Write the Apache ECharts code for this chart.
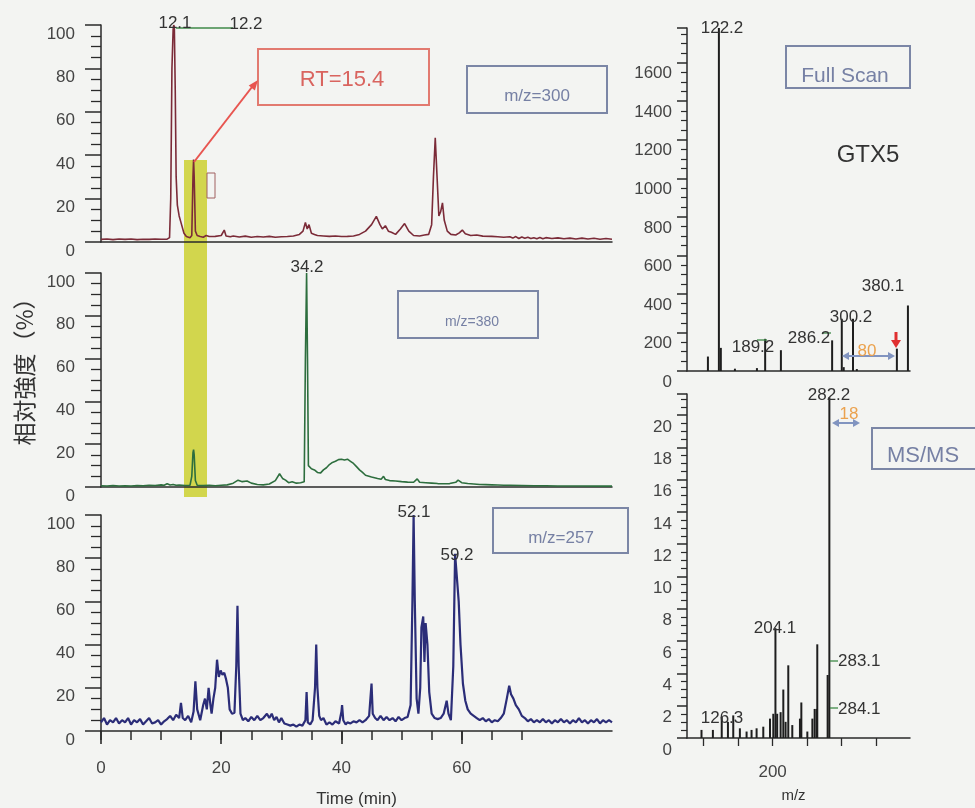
<!DOCTYPE html>
<html><head><meta charset="utf-8">
<script src="https://cdn.jsdelivr.net/npm/echarts@6/dist/echarts.min.js"></script>
<style>html,body{margin:0;padding:0;background:#f3f4f2}#c{width:975px;height:808px}</style>
</head><body><div id="c"></div>
<script>
// ---- Data ----
// Chromatogram m/z=300 : [time(min), relative intensity %]
const tic300 = [
[0,1.2],[1,1.4],[2,1.1],[3,1.4],[4,1.2],[5,1.4],[6,1.1],[7,1.3],[8,1.2],[9,1.4],[10,1.3],[11,1.3],[11.4,2],[11.6,20],[11.8,80],[12.0,98],[12.1,100],[12.2,99],[12.35,70],[12.5,30],[12.7,17],[13.0,12],[13.4,8],[13.8,4],[14.2,2.5],[14.8,2],[15.1,3],[15.3,30],[15.4,38],[15.5,30],[15.7,5],[16,3],[16.5,2.5],[17,2.2],[17.5,3],[18,2.5],[19,2.6],[20,3],[20.5,5.5],[20.8,2.8],[21.5,2.4],[22,2.8],[23,2.3],[24,2.7],[25,2.2],[26,2.5],[27,2.3],[28,2.6],[29,2.2],[30,2.4],[31,2.5],[32,2.8],[33,3.5],[33.6,5],[34,9],[34.3,6],[34.6,8],[35,4],[35.5,3.5],[36,3],[37,2.8],[38,2.6],[39,2.8],[40,2.5],[41,2.6],[42,2.8],[43,3.5],[44,5],[45,8],[45.8,11.8],[46.4,8],[46.8,6],[47.3,7.5],[47.8,5],[48.3,4.5],[49,3.5],[49.8,6],[50.5,8.5],[51.2,5],[52,3],[53,2.8],[53.8,3.2],[54.5,3.5],[55,8],[55.3,30],[55.6,48],[55.9,30],[56.2,12],[56.5,14],[56.8,18],[57.1,10],[57.6,5],[58.2,3.5],[59,3.2],[59.6,4.2],[60.1,5.5],[60.6,3.8],[61.5,3],[62.5,3.2],[63.5,2.7],[65,2.6],[66,2.4],[67,2.2],[68,2.4],[68.5,1.8],[69,2.5],[69.5,1.6],[70,2.3],[70.5,1.7],[71,2.2],[71.5,1.6],[72,2],[72.5,1.5],[73,2.1],[73.5,1.5],[74,2],[75,1.6],[76,1.9],[77,1.5],[78,1.8],[79,1.4],[80,1.8],[81,1.4],[82,1.7],[83,1.3],[84,1.6],[85,1.3]
];
// Chromatogram m/z=380
const tic380 = [
[0,0.6],[1,0.5],[2,0.7],[3,0.5],[4,0.6],[5,0.5],[6,0.7],[7,0.6],[8,0.8],[9,0.7],[10,1],[10.5,0.8],[11,1.5],[11.5,0.9],[12,1.2],[12.5,0.8],[13,0.9],[14,0.7],[14.8,0.8],[15.1,5],[15.3,16],[15.4,17.5],[15.5,15],[15.7,3],[16,0.8],[17,0.7],[18,0.8],[19,0.6],[20,0.8],[21,1],[22,1.8],[22.8,3.2],[23.5,2.5],[24.3,2.8],[25,1.8],[26,1.2],[27,1],[28,1.4],[29,3],[29.7,6.2],[30.2,4],[30.7,3.2],[31.2,2],[31.8,2.5],[32.5,1.8],[33.2,2],[33.8,2.5],[34.0,60],[34.2,100],[34.35,60],[34.5,10],[35,8.5],[35.5,8],[36,6.8],[36.5,6.5],[37,8],[37.5,9],[38,10.5],[38.5,11.5],[39,12],[39.3,11.2],[39.5,12.8],[39.8,12],[40,13],[40.3,12.2],[40.5,12.6],[40.8,12],[41,13],[41.5,12],[42,11],[42.5,9.5],[43,8],[43.5,6.8],[44,5.5],[45,4.7],[46,4],[46.6,3.6],[47,5],[47.3,3.5],[48,3],[49,2.8],[50,2.5],[51,2.3],[52,2.2],[52.6,3.8],[53,2.2],[54,2],[55,1.8],[56,1.6],[57,1.5],[58,1.6],[59,2.2],[59.4,3.2],[60,2],[61,1.6],[62,1.4],[63,1.2],[64,1.1],[65,1],[66,0.9],[67,0.8],[68,0.8],[70,0.7],[72,0.6],[74,0.6],[76,0.5],[78,0.5],[80,0.5],[82,0.4],[85,0.4]
];
// Chromatogram m/z=257
const tic257 = [
[0,4],[0.5,6],[1,3],[1.5,5],[2,4],[2.5,6],[3,3.5],[3.5,5],[4,4],[4.5,6],[5,3],[5.5,5],[6,4],[6.5,5.5],[7,3],[7.5,4.5],[8,6],[8.5,3.5],[9,4],[9.5,5],[10,3],[10.5,4.5],[11,5.5],[11.5,7],[12,5],[12.5,7.5],[13,6],[13.3,13],[13.6,6],[14,5],[14.5,7],[15,4],[15.4,9],[15.7,23],[16,10],[16.5,5],[17,12],[17.3,15],[17.6,10],[17.9,20],[18.2,12],[18.4,8],[18.7,15],[19,20],[19.3,33],[19.6,25],[19.9,28],[20.2,26],[20.5,27],[20.8,24],[21.1,20],[21.4,10],[21.8,8],[22.2,8.5],[22.5,30],[22.7,58],[22.9,30],[23.2,8],[23.6,5],[24,6],[24.5,4.5],[25,6.5],[25.5,5],[26,7],[26.5,5],[27,6],[27.6,8],[28,6],[28.4,8],[28.8,5],[29.2,6.5],[29.6,4],[30,6],[30.5,3.5],[31,3],[31.5,2.5],[32,3],[32.5,2],[33,3],[33.5,2.5],[34,5],[34.2,18],[34.4,4],[34.8,3],[35.2,5],[35.6,20],[35.8,40],[36,20],[36.3,7],[36.6,5],[37,6],[37.5,3],[38,4],[38.5,3],[39,4.5],[39.6,3.5],[40,9],[40.1,12],[40.3,5],[40.7,3],[41,4],[41.5,3.5],[42,4.5],[42.5,4],[43,5],[43.5,4],[44,5],[44.6,7],[45,22],[45.2,8],[45.6,6],[46,5],[46.5,7],[47,5],[47.5,6.5],[48,5],[48.5,6],[49,4.5],[49.5,6.5],[50,5],[50.5,6],[51,6.5],[51.5,12],[51.8,60],[52.0,100],[52.2,60],[52.5,15],[52.8,8],[53.1,20],[53.3,48],[53.6,53],[53.8,32],[54,50],[54.3,40],[54.6,18],[55,8],[55.5,6],[56,5.5],[56.5,6],[57,8],[57.5,14],[57.8,8],[58.2,5],[58.6,30],[58.9,82],[59.2,82],[59.5,60],[59.8,40],[60.2,22],[60.6,14],[61,10],[61.5,8],[62,7],[62.5,6],[63,5],[63.5,6],[64,4.5],[64.5,5.5],[65,4],[65.5,5],[66,4.5],[66.5,6],[67,8],[67.5,15],[67.9,21],[68.2,17],[68.6,15],[69,12],[69.5,10],[70,7],[70.5,6],[71,4.5],[71.5,5.5],[72,4],[72.5,5],[73,4],[73.5,5.5],[74,4],[74.5,5],[75,3.5],[75.5,5],[76,4],[76.5,5.5],[77,4],[77.5,5],[78,3.5],[78.5,5],[79,4],[79.5,6],[80,4],[80.5,5],[81,3.5],[81.5,5],[82,4],[82.5,5.5],[83,3.5],[83.5,5],[84,4],[84.5,5],[85,4]
];
// Full scan spectrum: [m/z, intensity]
const fullScan = [[106.3,75],[122.2,1780],[125,120],[145.4,12],[177.3,15],[189.2,167],[212,108],[286.2,159],[300.2,271],[303,20],[316.4,271],[322,10],[380,116],[396,340]];
// MS/MS spectrum: [m/z, intensity]
const msms = [[97,0.5],[113.5,0.5],[126.3,1.3],[135.3,1.0],[143,1.4],[152.6,0.6],[162.3,0.4],[169.5,0.5],[176.8,0.6],[186.5,0.7],[196.2,1.2],[201,1.5],[204.1,6.8],[206.6,1.5],[211.6,1.6],[215.5,3.0],[218.8,1.0],[222.7,4.5],[228.5,0.8],[239.6,1.2],[241.6,2.2],[250.3,0.4],[257.6,1.2],[260.9,1.8],[263.8,1.8],[264.7,5.8],[279.7,3.9],[282.2,21.1]];
// tick labels / tick positions
const timeLabels = [0,20,40,60];
const timeMinorTicks = [0,5,10,15,20,25,30,35,40,45,50,55,60,65,70];
const mzLabels = [200];
const mzTicks = [100,150,200,250,300,350];
const yAxisTitle = '相対強度（%）';

const chart = echarts.init(document.getElementById('c'), null, {renderer:'canvas'});
const F = '"Liberation Sans", Arial, sans-serif';
const axisCol = '#2a2a2a';
function leftY(gi){
  return {gridIndex:gi,type:'value',min:0,max:100,interval:20,
    axisLine:{show:true,lineStyle:{color:axisCol,width:1.5}},
    axisTick:{show:true,length:16,lineStyle:{color:axisCol,width:1.5}},
    minorTick:{show:true,splitNumber:4,length:10,lineStyle:{color:axisCol,width:1.3}},
    splitLine:{show:false},minorSplitLine:{show:false},
    axisLabel:{fontSize:17,fontFamily:F,color:'#444',margin:26,verticalAlign:'top',lineHeight:18}};
}
function plainX(gi,min,max){
  return {gridIndex:gi,type:'value',position:'bottom',min:min,max:max,
    axisLine:{show:true,onZero:false,lineStyle:{color:axisCol,width:1.5}},
    axisTick:{show:false},axisLabel:{show:false},splitLine:{show:false}};
}
const grids = [
  {left:101,top:25,width:511,height:217},
  {left:101,top:273,width:511,height:214},
  {left:101,top:515,width:511,height:216},
  {left:687,top:28,width:223,height:343},
  {left:687,top:394,width:223,height:344}
].map(g=>Object.assign(g,{outerBoundsMode:'none',containLabel:false}));

const option = {
  backgroundColor:'#f3f4f2',
  animation:false,
  grid:grids,
  xAxis:[
    plainX(0,0,85),
    plainX(1,0,85),
    Object.assign(plainX(2,0,85),{interval:20,
      axisTick:{show:true,length:9,customValues:timeMinorTicks,lineStyle:{color:axisCol,width:1.5}},
      axisLabel:{show:true,customValues:timeLabels,fontSize:17,fontFamily:F,color:'#444',margin:29,
        formatter:v=>timeLabels.indexOf(v)>=0?String(v):''},
      name:'Time (min)',nameLocation:'middle',nameGap:60,
      nameTextStyle:{fontSize:17,fontFamily:F,color:'#333'}}),
    plainX(3,76,399),
    Object.assign(plainX(4,76,399),{
      axisTick:{show:true,length:8,customValues:mzTicks,lineStyle:{color:axisCol,width:1.3}},
      axisLabel:{show:true,customValues:mzLabels,fontSize:17,fontFamily:F,color:'#444',margin:26,
        formatter:v=>mzLabels.indexOf(v)>=0?String(v):''},
      name:'m/z',nameLocation:'middle',nameGap:50,
      nameTextStyle:{fontSize:15,fontFamily:F,color:'#333',padding:[0,10,0,0]}}),
    // longer major ticks on the time axis
    {gridIndex:2,type:'value',position:'bottom',min:0,max:85,
      axisLine:{show:false,onZero:false},splitLine:{show:false},
      axisTick:{show:true,inside:false,length:13,customValues:timeLabels,lineStyle:{color:axisCol,width:1.6}},
      axisLabel:{show:false}}
  ],
  yAxis:[
    leftY(0),leftY(1),leftY(2),
    {gridIndex:3,type:'value',min:0,max:1780,interval:200,
      axisLine:{show:true,lineStyle:{color:axisCol,width:1.5}},
      axisTick:{show:true,length:10,lineStyle:{color:axisCol,width:1.5}},
      minorTick:{show:true,splitNumber:4,length:6,lineStyle:{color:axisCol,width:1.2}},
      splitLine:{show:false},
      axisLabel:{fontSize:17,fontFamily:F,color:'#444',margin:15,verticalAlign:'top',lineHeight:22,
        showMaxLabel:false,formatter:v=>v>=1780?'':String(v)}},
    {gridIndex:4,type:'value',min:0,max:21.3,interval:2,
      axisLine:{show:true,lineStyle:{color:axisCol,width:1.5}},
      axisTick:{show:true,length:10,lineStyle:{color:axisCol,width:1.5}},
      minorTick:{show:true,splitNumber:4,length:6,lineStyle:{color:axisCol,width:1.2}},
      splitLine:{show:false},
      axisLabel:{fontSize:17,fontFamily:F,color:'#444',margin:15,verticalAlign:'top',lineHeight:24,
        showMaxLabel:false,formatter:v=>v>21?'':String(v)}}
  ],
  series:[
    {type:'line',xAxisIndex:0,yAxisIndex:0,data:tic300,showSymbol:false,lineStyle:{color:'#7b2b38',width:1.6},z:3},
    {type:'line',xAxisIndex:1,yAxisIndex:1,data:tic380,showSymbol:false,lineStyle:{color:'#2d6e3e',width:1.6},z:3},
    {type:'line',xAxisIndex:2,yAxisIndex:2,data:tic257,showSymbol:false,lineStyle:{color:'#2b2d78',width:2.2},z:3},
    {type:'bar',xAxisIndex:3,yAxisIndex:3,data:fullScan,barWidth:2,itemStyle:{color:'#1e1e1e'},z:3},
    {type:'bar',xAxisIndex:4,yAxisIndex:4,data:msms,barWidth:2,itemStyle:{color:'#1e1e1e'},z:3}
  ]
};
chart.setOption(option);

// ---- annotations ----
const G = [];
const boxCol = '#7b86a6', boxTxt = '#7680a4';
function T(x,y,s,size,col,align,extra){ G.push(Object.assign({type:'text',x:x,y:y,z:50,
  style:{text:s,fill:col||'#333',font:(size||17)+'px '+F,textAlign:align||'center',textVerticalAlign:'middle'}},extra||{})); }
function R(x,y,w,h,col,lw,fill,z){ G.push({type:'rect',z:z||40,shape:{x:x,y:y,width:w,height:h},style:{fill:fill||'none',stroke:col,lineWidth:lw||2}}); }
function L(x1,y1,x2,y2,col,lw){ G.push({type:'line',z:45,shape:{x1:x1,y1:y1,x2:x2,y2:y2},style:{stroke:col,lineWidth:lw||1.5}}); }
function P(pts,col){ G.push({type:'polygon',z:45,shape:{points:pts},style:{fill:col}}); }
function dblArrow(x1,x2,y,col){ L(x1+5,y,x2-5,y,col,2); P([[x1,y],[x1+7,y-4],[x1+7,y+4]],col); P([[x2,y],[x2-7,y-4],[x2-7,y+4]],col); }

// yellow highlight (below series)
G.push({type:'rect',z:-1,shape:{x:184,y:160,width:23,height:337},style:{fill:'#cfd23f',opacity:0.92}});
// y axis title
G.push({type:'text',x:24,y:366,rotation:Math.PI/2,z:50,style:{text:yAxisTitle,fill:'#333',font:'23px "Noto Sans CJK JP"',textAlign:'center',textVerticalAlign:'middle'}});
// top-left annotations
T(175,23,'12.1'); T(246,24,'12.2'); L(176,28,233,28,'#3f8a48',1.5);
R(258,49,171,56,'#e27a70',2); T(342,80,'RT=15.4',22,'#d9645f');
L(194,162,252,87,'#e85550',2); P([[258,80],[254.9,90.4],[248.7,85.4]],'#e85550');
R(207,173,8,25,'#a06060',1);
R(467,66,140,47,boxCol,2); T(537,96,'m/z=300',17,boxTxt);
// middle
T(307,267,'34.2');
R(398,291,140,47,boxCol,2); T(472,322,'m/z=380',14,boxTxt);
// bottom
T(414,512,'52.1'); T(457,555,'59.2');
R(493,508,135,45,boxCol,2); T(561,538,'m/z=257',17,boxTxt);
// full scan
T(722,28,'122.2'); T(753,347,'189.2'); T(809,338,'286.2'); T(851,317,'300.2'); T(883,286,'380.1');
L(757,340,767,340,'#3f8a48',1.3); L(822,333,831,333,'#3f8a48',1.3);
R(786,46,124,42,boxCol,2); T(845,76,'Full Scan',21,boxTxt);
T(868,155,'GTX5',24,'#333');
dblArrow(842,895,356,'#8194c0'); T(867,351,'80',17,'#eba24e');
L(896,332,896,341,'#e03030',3); P([[891,340],[901,340],[896,348]],'#e03030');
// ms/ms
T(829,395,'282.2'); dblArrow(832,860,423,'#8194c0'); T(849,414,'18',17,'#eba24e');
R(872,428,120,41,boxCol,2); T(923,456,'MS/MS',22,boxTxt);
T(775,628,'204.1'); T(722,718,'126.3');
L(830,661,838,661,'#3f8a48',1.3); T(838,661,'283.1',17,'#333','left');
L(830,708,838,708,'#3f8a48',1.3); T(838,709,'284.1',17,'#333','left');

chart.setOption({graphic:{elements:G}});
</script></body></html>
